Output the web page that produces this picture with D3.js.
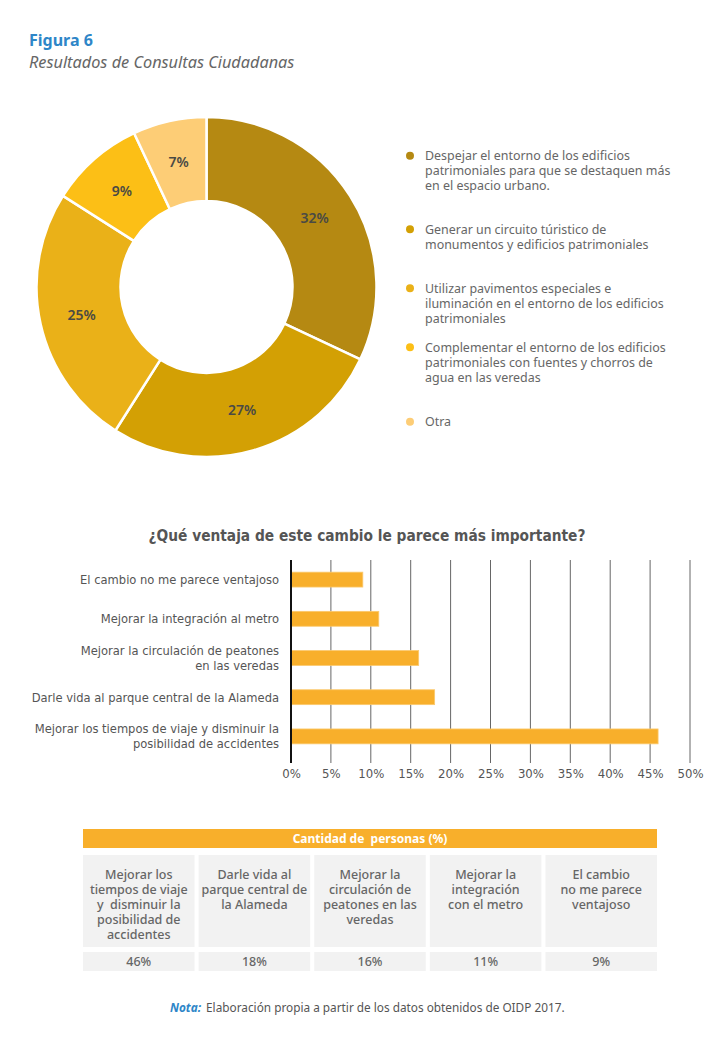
<!DOCTYPE html>
<html>
<head>
<meta charset="utf-8">
<script src="https://cdn.jsdelivr.net/npm/d3@7"></script>
<style>
  body { margin: 0; background: #fff; }
  svg { display: block; }
</style>
</head>
<body>
<svg id="fig" width="721" height="1044"></svg>
<script>
// donut data
var donutValues = [32, 27, 25, 9, 7]
var donutColors = ["#b58912", "#d3a004", "#eab118", "#fcbf16", "#fdcd76"]
var legendLines = [
  ["Despejar el entorno de los edificios", "patrimoniales para que se destaquen más", "en el espacio urbano."],
  ["Generar un circuito túristico de", "monumentos y edificios patrimoniales"],
  ["Utilizar pavimentos especiales e", "iluminación en el entorno de los edificios", "patrimoniales"],
  ["Complementar el entorno de los edificios", "patrimoniales con fuentes y chorros de", "agua en las veredas"],
  ["Otra"]
]

// bar data (top to bottom)
var barLabels = [
  ["El cambio no me parece ventajoso"],
  ["Mejorar la integración al metro"],
  ["Mejorar la circulación de peatones", "en las veredas"],
  ["Darle vida al parque central de la Alameda"],
  ["Mejorar los tiempos de viaje y disminuir la", "posibilidad de accidentes"]
]
var barValues = [9, 11, 16, 18, 46]
var xTicks = [0, 5, 10, 15, 20, 25, 30, 35, 40, 45, 50]

// table data (left to right)
var tableLabels = [
  ["Mejorar los", "tiempos de viaje", "y  disminuir la", "posibilidad de", "accidentes"],
  ["Darle vida al", "parque central de", "la Alameda"],
  ["Mejorar la", "circulación de", "peatones en las", "veredas"],
  ["Mejorar la", "integración", "con el metro"],
  ["El cambio", "no me parece", "ventajoso"]
]
var tableValues = [46, 18, 16, 11, 9]

var svg = d3.select("#fig")
var sans = "'Noto Sans', 'Open Sans', sans-serif"
var narrow = "'Liberation Sans Narrow', 'DejaVu Sans Condensed', sans-serif"

// titles
svg.append("text").attr("x", 29).attr("y", 46)
  .attr("font-family", sans).attr("font-size", 16).attr("font-weight", "bold")
  .attr("fill", "#2e86c8").text("Figura 6")
svg.append("text").attr("x", 29).attr("y", 68)
  .attr("font-family", sans).attr("font-size", 16.3).attr("font-style", "italic")
  .attr("fill", "#666").text("Resultados de Consultas Ciudadanas")

// donut
var cx = 206.5, cy = 287, rOut = 170, rIn = 86
var pie = d3.pie().sort(null).value(d => d)
var arc = d3.arc().innerRadius(rIn).outerRadius(rOut)
var labelArc = d3.arc().innerRadius(128).outerRadius(128)
var donut = svg.append("g").attr("transform", "translate(" + cx + "," + cy + ")")
var arcs = pie(donutValues)
donut.selectAll("path").data(arcs).enter().append("path")
  .attr("d", arc)
  .attr("fill", (d, i) => donutColors[i])
  .attr("stroke", "#fff").attr("stroke-width", 2.5)
donut.selectAll("text").data(arcs).enter().append("text")
  .attr("x", d => labelArc.centroid(d)[0])
  .attr("y", d => labelArc.centroid(d)[1])
  .attr("dy", "0.35em")
  .attr("text-anchor", "middle")
  .attr("font-family", sans).attr("font-size", 14).attr("font-weight", 600)
  .attr("fill", "#4a4a44")
  .text(d => d.data + "%")

// legend
var legendY = [155.7, 229.3, 288.3, 347.3, 421.7]
var legend = svg.append("g")
legendLines.forEach(function(lines, i) {
  legend.append("circle").attr("cx", 410).attr("cy", legendY[i]).attr("r", 4)
    .attr("fill", donutColors[i])
  var t = legend.append("text").attr("font-family", sans).attr("font-size", 12.45)
    .attr("fill", "#666")
  lines.forEach(function(l, j) {
    t.append("tspan").attr("x", 425).attr("y", legendY[i] + 4.3 + j * 15).text(l)
  })
})

// bar chart
svg.append("text").attr("x", 367).attr("y", 541).attr("text-anchor", "middle")
  .attr("font-family", narrow).attr("font-size", 15.3).attr("font-weight", "bold")
  .attr("fill", "#555").text("¿Qué ventaja de este cambio le parece más importante?")

var x = d3.scaleLinear().domain([0, 50]).range([291, 690])
var y = d3.scaleBand().domain(d3.range(barValues.length)).range([560, 756]).paddingInner(0.62).paddingOuter(0.31)
var bars = svg.append("g")

bars.selectAll(".grid").data(xTicks.slice(1)).enter().append("line")
  .attr("class", "grid")
  .attr("x1", d => x(d)).attr("x2", d => x(d))
  .attr("y1", 560).attr("y2", 763)
  .attr("stroke", "#666").attr("stroke-width", 1)

bars.selectAll(".bar").data(barValues).enter().append("rect")
  .attr("class", "bar")
  .attr("x", x(0))
  .attr("y", (d, i) => y(i))
  .attr("width", d => x(d) - x(0))
  .attr("height", y.bandwidth())
  .attr("fill", "#f8af2b")
  .attr("stroke", "#fbc96e").attr("stroke-width", 0.8)

bars.append("line").attr("x1", x(0)).attr("x2", x(0)).attr("y1", 560).attr("y2", 763)
  .attr("stroke", "#111").attr("stroke-width", 2)

var xAxis = d3.axisBottom(x).tickValues(xTicks).tickFormat(d => d + "%").tickSize(0).tickPadding(0)
var ax = bars.append("g").attr("transform", "translate(0,768)").call(xAxis)
ax.select(".domain").remove()
ax.selectAll("text").attr("font-family", narrow).attr("font-size", 13).attr("fill", "#555")
  .attr("dy", "0.8em")

bars.selectAll(".blabel").data(barLabels).enter().append("text")
  .attr("class", "blabel")
  .attr("text-anchor", "end")
  .attr("font-family", narrow).attr("font-size", 12.8).attr("fill", "#555")
  .each(function(lines, i) {
    var mid = y(i) + y.bandwidth() / 2
    var top = mid - (lines.length - 1) * 7.5
    d3.select(this).selectAll("tspan").data(lines).enter().append("tspan")
      .attr("x", 279).attr("y", (l, j) => top + j * 15 + 4.5).text(l => l)
  })

// table
var tx = d3.scaleBand().domain(d3.range(tableLabels.length)).range([83, 657]).paddingInner(0.035).paddingOuter(0)
var table = svg.append("g")
table.append("rect").attr("x", 83).attr("y", 829).attr("width", 574).attr("height", 19)
  .attr("fill", "#f8af2b")
table.append("text").attr("x", 370).attr("y", 842.5).attr("text-anchor", "middle")
  .attr("font-family", sans).attr("font-size", 12).attr("font-weight", "bold")
  .attr("fill", "#fff").attr("xml:space", "preserve").text("Cantidad de  personas (%)")

var cols = table.selectAll(".col").data(tableLabels).enter().append("g").attr("class", "col")
cols.append("rect").attr("x", (d, i) => tx(i)).attr("y", 855).attr("width", tx.bandwidth()).attr("height", 92)
  .attr("fill", "#f2f2f2")
cols.append("rect").attr("x", (d, i) => tx(i)).attr("y", 952).attr("width", tx.bandwidth()).attr("height", 19)
  .attr("fill", "#f2f2f2")
cols.append("text").attr("text-anchor", "middle")
  .attr("font-family", sans).attr("font-size", 12.5).attr("font-weight", 500).attr("fill", "#666")
  .attr("xml:space", "preserve")
  .each(function(lines, i) {
    d3.select(this).selectAll("tspan").data(lines).enter().append("tspan")
      .attr("x", tx(i) + tx.bandwidth() / 2).attr("y", (l, j) => 878.5 + j * 15.2).text(l => l)
  })
cols.append("text").attr("text-anchor", "middle")
  .attr("x", (d, i) => tx(i) + tx.bandwidth() / 2).attr("y", 966)
  .attr("font-family", sans).attr("font-size", 12.5).attr("font-weight", 500).attr("fill", "#666")
  .text((d, i) => tableValues[i] + "%")

// note
var note = svg.append("text").attr("x", 170).attr("y", 1012)
  .attr("font-family", sans).attr("font-size", 11.8).attr("fill", "#555")
note.append("tspan").attr("font-weight", "bold").attr("font-style", "italic").attr("fill", "#2e86c8").text("Nota:")
note.append("tspan").attr("dx", 5).text("Elaboración propia a partir de los datos obtenidos de OIDP 2017.")
</script>
</body>
</html>
